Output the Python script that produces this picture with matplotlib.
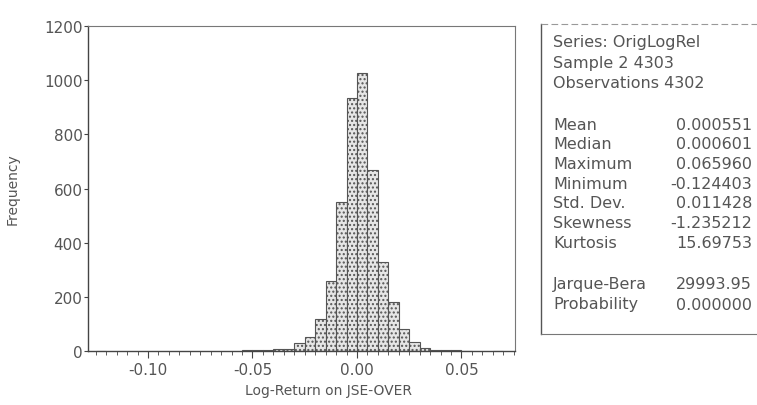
#### Histogram of JSE-OVER log returns with EViews style stats box ####

import matplotlib.pyplot as plt
from matplotlib.ticker import MultipleLocator

# Data #

bin_left = [-0.125, -0.055, -0.050, -0.045, -0.040, -0.035, -0.030, -0.025,
            -0.020, -0.015, -0.010, -0.005, 0.000, 0.005, 0.010, 0.015,
            0.020, 0.025, 0.030, 0.035, 0.040, 0.045, 0.050, 0.065]
counts = [1, 2, 4, 3, 6, 8, 30, 52,
          118, 257, 550, 933, 1025, 670, 330, 180,
          80, 35, 10, 4, 2, 2, 1, 1]
bin_width = 0.005

y_ticks = [0, 200, 400, 600, 800, 1000, 1200]
x_ticks = [-0.10, -0.05, 0.00, 0.05]
x_tick_labels = ["-0.10", "-0.05", "0.00", "0.05"]

header_lines = ["Series: OrigLogRel", "Sample 2 4303", "Observations 4302"]
stat_names = ["Mean", "Median", "Maximum", "Minimum", "Std. Dev.", "Skewness", "Kurtosis"]
stat_values = ["0.000551", "0.000601", "0.065960", "-0.124403", "0.011428", "-1.235212", "15.69753"]
test_names = ["Jarque-Bera", "Probability"]
test_values = ["29993.95", "0.000000"]

# Figure set up #

W, H = 757, 406
plt.rcParams['font.family'] = ['DejaVu Sans']
txt = '#555555'

fig = plt.figure(figsize=(W / 100, H / 100), dpi=100)
ax = fig.add_axes([88 / W, 1 - 352 / H, (515 - 88) / W, (352 - 27) / H])

ax.bar(bin_left, counts, width=bin_width, align='edge',
       facecolor='#e6e6e6', edgecolor='#555555', hatch='....', linewidth=0.8)

ax.set_xlim(-0.1287, 0.0756)
ax.set_ylim(0, 1200)
ax.set_yticks(y_ticks)
ax.set_yticklabels([str(v) for v in y_ticks])
ax.set_xticks(x_ticks)
ax.set_xticklabels(x_tick_labels)
ax.xaxis.set_minor_locator(MultipleLocator(0.005))

ax.tick_params(axis='both', colors='#444444', labelcolor=txt, labelsize=11)
ax.tick_params(axis='y', length=3, pad=1)
ax.tick_params(axis='x', which='major', length=5, pad=3)
ax.tick_params(axis='x', which='minor', length=3, color='#444444')

for side in ['left', 'bottom']:
    ax.spines[side].set_color('#444444')
    ax.spines[side].set_linewidth(1.0)
for side in ['top', 'right']:
    ax.spines[side].set_color('#777777')
    ax.spines[side].set_linewidth(0.8)

ax.set_ylabel("Frequency", color=txt, fontsize=10)
ax.yaxis.set_label_coords(-0.16, 0.5)
ax.set_xlabel("Log-Return on JSE-OVER", color=txt, fontsize=10)
ax.xaxis.set_label_coords((329 - 88) / (515 - 88), -0.1)

# Stats box on the right #

def fx(px):
    return px / W

def fy(py):
    return 1 - py / H

box_left, box_top, box_bottom = 541, 25, 335
fig.add_artist(plt.Line2D([fx(box_left), fx(box_left)], [fy(box_top), fy(box_bottom)],
                          color='#555555', lw=1.0))
fig.add_artist(plt.Line2D([fx(box_left), fx(W)], [fy(box_top), fy(box_top)],
                          color='#999999', lw=0.8, ls=(0, (6, 3))))
fig.add_artist(plt.Line2D([fx(box_left), fx(W)], [fy(box_bottom), fy(box_bottom)],
                          color='#777777', lw=0.8))

label_x, value_x = 553, 752
fs = 11.5
row_y = 43
for line in header_lines:
    fig.text(fx(label_x), fy(row_y), line, color=txt, fontsize=fs, va='center')
    row_y += 20.5

row_y = 125
for name, val in zip(stat_names, stat_values):
    fig.text(fx(label_x), fy(row_y), name, color=txt, fontsize=fs, va='center')
    fig.text(fx(value_x), fy(row_y), val, color=txt, fontsize=fs, va='center', ha='right')
    row_y += 19.7

row_y = 285
for name, val in zip(test_names, test_values):
    fig.text(fx(label_x), fy(row_y), name, color=txt, fontsize=fs, va='center')
    fig.text(fx(value_x), fy(row_y), val, color=txt, fontsize=fs, va='center', ha='right')
    row_y += 20

fig.savefig("out.png", dpi=100)
